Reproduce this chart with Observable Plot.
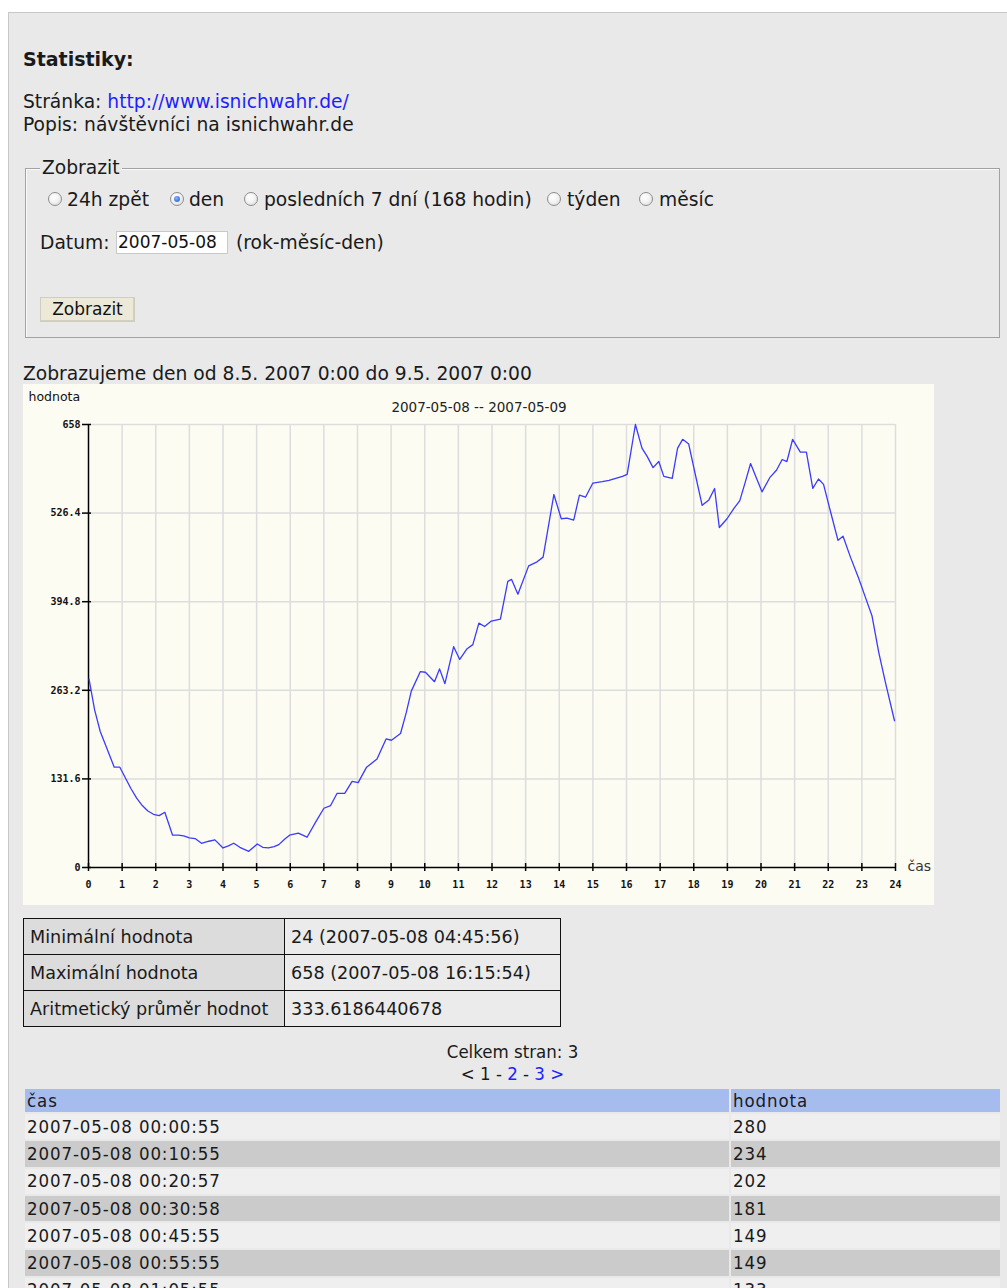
<!DOCTYPE html>
<html>
<head>
<meta charset="utf-8">
<script src="https://cdn.jsdelivr.net/npm/d3@7"></script>
<script src="https://cdn.jsdelivr.net/npm/@observablehq/plot@0.6"></script>
<style>
  html, body { margin: 0; padding: 0; background: #fff; width: 1007px; height: 1288px; overflow: hidden; }
  body { font-family: "DejaVu Sans", Verdana, sans-serif; font-size: 18.7px; color: #1a1a1a; position: relative; }
  .panel { position: absolute; left: 8px; top: 12px; width: 1010px; height: 1300px; background: #e9e9e9; border-top: 1px solid #c8c8c8; border-left: 1px solid #c8c8c8; }
  .abs { position: absolute; white-space: nowrap; line-height: 23px; }
  a, .link { color: #1f1fff; text-decoration: none; }
  .fs { position: absolute; left: 25px; top: 168px; width: 973px; height: 168px; border: 1px solid #a2a2a2; box-shadow: inset 1px 1px 0 #fafafa; }
  .legend { position: absolute; left: 40px; top: 157px; background: #e9e9e9; padding: 0 2px; line-height: 22px; }
  .radio { position: absolute; width: 14px; height: 14px; border-radius: 50%; border: 1px solid #8d8d8d; background: radial-gradient(circle at 40% 35%, #ffffff 0%, #f3f3f3 45%, #d6d6d6 100%); box-sizing: border-box; }
  .radio.on::after { content: ""; position: absolute; left: 3px; top: 3px; width: 6px; height: 6px; border-radius: 50%; background: radial-gradient(circle at 40% 35%, #8fb5ff 0%, #2f63d6 80%); }
  .input { position: absolute; left: 116px; top: 231px; width: 112px; height: 23px; box-sizing: border-box; background: #fff; border: 1px solid #c9c9c9; font-size: 17px; line-height: 21px; padding-left: 1px; color: #111; }
  .btn { position: absolute; left: 40px; top: 297px; width: 95px; height: 25px; box-sizing: border-box; background: #ece9d8; border: 1px solid #cfcdc0; box-shadow: inset -1px -1px 0 #d4d0c0; text-align: center; font-size: 17px; line-height: 23px; color: #111; }
  #chart { position: absolute; left: 23px; top: 384px; width: 911px; height: 521px; }
  table.stats { position: absolute; left: 23px; top: 918px; border-collapse: collapse; font-size: 17.6px; }
  table.stats td { border: 1px solid #111; height: 35px; padding: 0 6px; white-space: nowrap; }
  table.stats td.k { background: #dcdcdc; width: 248px; }
  table.stats td.v { background: #ebebeb; width: 263px; }
  .center { position: absolute; left: 25px; width: 975px; text-align: center; font-family: "DejaVu Sans Condensed", "DejaVu Sans", sans-serif; font-size: 18.5px; line-height: 22px; }
  table.data { position: absolute; left: 23px; top: 1087px; width: 979px; border-collapse: separate; border-spacing: 2px; font-family: "DejaVu Sans Condensed", "DejaVu Sans", sans-serif; font-size: 18.5px; letter-spacing: 0.9px; }
  table.data td { height: 25.3px; padding: 0 2px; white-space: nowrap; line-height: 20px; }
  table.data th { height: 23px; padding: 0 2px; text-align: left; font-weight: normal; background: #a6bcee; line-height: 20px; }
  table.data tr:nth-child(even) td { background: #efefef; }
  table.data tr:nth-child(odd) td { background: #cbcbcb; }
</style>
</head>
<body>
<div class="panel"></div>

<div class="abs" style="left:23px; top:48px; font-weight:bold; font-size:19px;">Statistiky:</div>
<div class="abs" style="left:23px; top:90px;">Stránka: <a>http://www.isnichwahr.de/</a></div>
<div class="abs" style="left:23px; top:113px;">Popis: návštěvníci na isnichwahr.de</div>

<div class="fs"></div>
<div class="legend">Zobrazit</div>

<span class="radio" style="left:48px; top:192px;"></span><div class="abs" style="left:67px; top:188px;">24h zpět</div>
<span class="radio on" style="left:170px; top:192px;"></span><div class="abs" style="left:189px; top:188px;">den</div>
<span class="radio" style="left:244px; top:192px;"></span><div class="abs" style="left:264px; top:188px;">posledních 7 dní (168 hodin)</div>
<span class="radio" style="left:547px; top:192px;"></span><div class="abs" style="left:567px; top:188px;">týden</div>
<span class="radio" style="left:639px; top:192px;"></span><div class="abs" style="left:659px; top:188px;">měsíc</div>

<div class="abs" style="left:40px; top:231px;">Datum:</div>
<div class="input">2007-05-08</div>
<div class="abs" style="left:236px; top:231px;">(rok-měsíc-den)</div>
<div class="btn">Zobrazit</div>

<div class="abs" style="left:23px; top:362px;">Zobrazujeme den od 8.5. 2007 0:00 do 9.5. 2007 0:00</div>

<div id="chart"></div>

<table class="stats">
  <tr><td class="k">Minimální hodnota</td><td class="v">24 (2007-05-08 04:45:56)</td></tr>
  <tr><td class="k">Maximální hodnota</td><td class="v">658 (2007-05-08 16:15:54)</td></tr>
  <tr><td class="k">Aritmetický průměr hodnot</td><td class="v">333.6186440678</td></tr>
</table>

<div class="center" style="top:1041px;">Celkem stran: 3</div>
<div class="center" style="top:1063px;">&lt; 1 - <span class="link">2</span> - <span class="link">3</span> <span class="link">&gt;</span></div>

<table class="data" id="datatable"></table>

<script>
// ---- chart data (hours since 2007-05-08 00:00, visitors) ----
const hours = [
  0.015, 0.182, 0.349, 0.516, 0.765, 0.932, 1.098, 1.265, 1.432, 1.599, 1.766, 1.932,
  2.10, 2.27, 2.50, 2.67, 2.83, 3.00, 3.17, 3.36, 3.58, 3.76, 4.00, 4.16, 4.32, 4.50,
  4.766, 5.02, 5.18, 5.35, 5.52, 5.66, 5.83, 5.98, 6.24, 6.50, 6.75, 7.00, 7.20, 7.39,
  7.62, 7.84, 8.02, 8.27, 8.58, 8.85, 9.01, 9.28, 9.45, 9.60, 9.87, 10.02, 10.29, 10.44,
  10.60, 10.86, 11.04, 11.26, 11.43, 11.61, 11.78, 11.98, 12.25, 12.47, 12.58, 12.77,
  13.09, 13.34, 13.52, 13.84, 14.06, 14.23, 14.43, 14.60, 14.78, 15.00, 15.28, 15.48,
  15.68, 15.88, 16.02, 16.265, 16.46, 16.61, 16.79, 16.96, 17.11, 17.36, 17.52, 17.67,
  17.85, 18.05, 18.25, 18.45, 18.62, 18.76, 18.99, 19.19, 19.37, 19.53, 19.69, 19.86,
  20.03, 20.26, 20.46, 20.63, 20.77, 20.94, 21.17, 21.35, 21.54, 21.71, 21.86, 22.07,
  22.29, 22.44, 22.66, 22.91, 23.10, 23.30, 23.50, 23.70, 23.97
];
const visits = [
  280, 234, 202, 181, 149, 149, 133, 117, 103, 92, 84, 79,
  77, 82, 48, 48, 47, 44, 43, 36, 39, 41, 29, 32, 36, 30,
  24, 35, 30, 29, 31, 34, 42, 48, 51, 45, 67, 88, 92, 110,
  110, 128, 126, 149, 161, 191, 189, 199, 230, 262, 291, 290, 276, 295,
  273, 328, 309, 325, 331, 363, 358, 366, 369, 425, 428, 406,
  448, 454, 461, 554, 518, 519, 516, 553, 550, 571, 573, 575,
  578, 581, 584, 658, 623, 611, 594, 603, 581, 578, 623, 636,
  629, 583, 538, 546, 563, 505, 518, 533, 545, 572, 600, 579,
  558, 579, 590, 606, 603, 636, 617, 617, 563, 577, 569, 528,
  486, 492, 461, 429, 402, 374, 320, 275, 218
];
const xTicks = [0, 1, 2, 3, 4, 5, 6, 7, 8, 9, 10, 11, 12, 13, 14, 15, 16, 17, 18, 19, 20, 21, 22, 23, 24];
const yTickValues = [0, 131.6, 263.2, 394.8, 526.4, 658];
const yTickLabels = ["0", "131.6", "263.2", "394.8", "526.4", "658"];
const chartTitle = "2007-05-08 -- 2007-05-09";
const yAxisLabel = "hodnota";
const xAxisLabel = "čas";

// ---- table rows ----
const tableHeader = ["čas", "hodnota"];
const tableTimes = ["2007-05-08 00:00:55", "2007-05-08 00:10:55", "2007-05-08 00:20:57",
  "2007-05-08 00:30:58", "2007-05-08 00:45:55", "2007-05-08 00:55:55", "2007-05-08 01:05:55"];
const tableValues = [280, 234, 202, 181, 149, 149, 133];

const data = hours.map((h, i) => ({h, v: visits[i]}));
const xMax = xTicks[xTicks.length - 1];
const yMax = yTickValues[yTickValues.length - 1];
const mono = "'DejaVu Sans Mono', monospace";

const chart = Plot.plot({
  width: 911,
  height: 521,
  marginLeft: 65,
  marginRight: 39,
  marginTop: 40,
  marginBottom: 38,
  style: {background: "#fcfcf3", fontFamily: "'DejaVu Sans', sans-serif", color: "#111", overflow: "visible"},
  x: {domain: [0, xMax], axis: null},
  y: {domain: [0, yMax], axis: null},
  marks: [
    Plot.gridX(xTicks.slice(1), {stroke: "#dddddd", strokeOpacity: 1, strokeWidth: 1.5}),
    Plot.gridY(yTickValues.slice(1), {stroke: "#dddddd", strokeOpacity: 1, strokeWidth: 1.5}),
    Plot.ruleX([0], {y1: 0, y2: yMax, stroke: "#000", strokeWidth: 1.5}),
    Plot.ruleY([0], {x1: 0, x2: xMax, stroke: "#000", strokeWidth: 1.5}),
    Plot.ruleX(xTicks, {x: d => d, y1: 0, y2: 0, insetTop: -4, insetBottom: -4, stroke: "#000", strokeWidth: 1.5}),
    Plot.ruleY(yTickValues, {y: d => d, x1: 0, x2: 0, insetLeft: -6, insetRight: -3, stroke: "#000", strokeWidth: 1.5}),
    Plot.axisX(xTicks, {tickSize: 0, tickPadding: 13, fontSize: 10, fontFamily: mono, fontWeight: "bold", label: null, fill: "#111"}),
    Plot.axisY(yTickValues, {tickSize: 0, tickPadding: 8, fontSize: 10, fontFamily: mono, fontWeight: "bold", label: null, fill: "#111",
      tickFormat: d => yTickLabels[yTickValues.indexOf(d)]}),
    Plot.line(data, {x: "h", y: "v", stroke: "#3b3bff", strokeWidth: 1.3}),
    Plot.text([chartTitle], {frameAnchor: "top", dx: -13, dy: -22, fontSize: 13.5, fill: "#222"}),
    Plot.text([yAxisLabel], {frameAnchor: "top-left", dx: -60, dy: -32, textAnchor: "start", fontSize: 12.5, fill: "#111"}),
    Plot.text([xAxisLabel], {frameAnchor: "bottom-right", dx: 12, dy: 3, textAnchor: "start", fontSize: 14, fill: "#333"})
  ]
});
document.getElementById("chart").appendChild(chart);

// build data table
const tbl = document.getElementById("datatable");
const hr = document.createElement("tr");
tableHeader.forEach((t, i) => {
  const th = document.createElement("th");
  th.textContent = t;
  if (i === 0) th.style.width = "700px";
  hr.appendChild(th);
});
tbl.appendChild(hr);
tableTimes.forEach((t, i) => {
  const tr = document.createElement("tr");
  const a = document.createElement("td"); a.textContent = t;
  const b = document.createElement("td"); b.textContent = tableValues[i];
  tr.appendChild(a); tr.appendChild(b);
  tbl.appendChild(tr);
});
</script>
</body>
</html>
